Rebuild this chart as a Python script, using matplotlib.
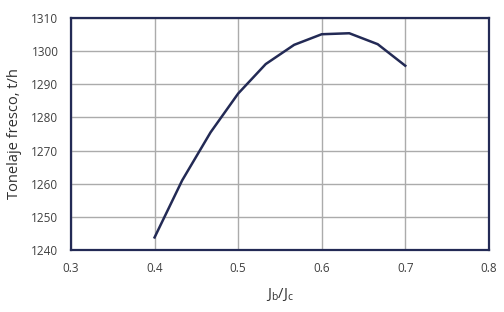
import matplotlib
matplotlib.use('Agg')
from matplotlib import pyplot as plt

jb_jc = [0.4, 0.433, 0.467, 0.5, 0.533, 0.567, 0.6, 0.633, 0.667, 0.7]
tonelaje = [1243.8, 1261.0, 1275.5, 1287.2, 1296.1, 1301.9, 1305.1, 1305.4, 1302.1, 1295.6]

x_ticks = [0.3, 0.4, 0.5, 0.6, 0.7, 0.8]
y_ticks = [1240, 1250, 1260, 1270, 1280, 1290, 1300, 1310]

navy = '#232a55'
plt.rcParams['font.family'] = ['Open Sans', 'DejaVu Sans']

fig = plt.figure(figsize=(5.04, 3.12), dpi=100)
ax = fig.add_axes([0.1409, 0.1987, 0.829, 0.7436])

ax.plot(jb_jc, tonelaje, color=navy, lw=1.8, zorder=3)

ax.set_xlim(0.3, 0.8)
ax.set_ylim(1240, 1310)
ax.set_xticks(x_ticks)
ax.set_yticks(y_ticks)
ax.set_xticklabels([f'{v:.1f}' for v in x_ticks])
ax.grid(True, color='#ababab', lw=1.0)
ax.set_axisbelow(True)
ax.tick_params(length=0, labelsize=8.5, colors='#404040')
ax.tick_params(axis='y', pad=9)
ax.tick_params(axis='x', pad=8.5)
for s in ax.spines.values():
    s.set_color(navy)
    s.set_linewidth(1.6)

ax.set_ylabel('Tonelaje fresco, t/h', fontsize=10.5, color='#303030', labelpad=7)
ax.set_xlabel(r'J$_\mathregular{b}$/J$_\mathregular{c}$', fontsize=10.5, color='#303030', labelpad=8)

fig.savefig('out.png', dpi=100)
